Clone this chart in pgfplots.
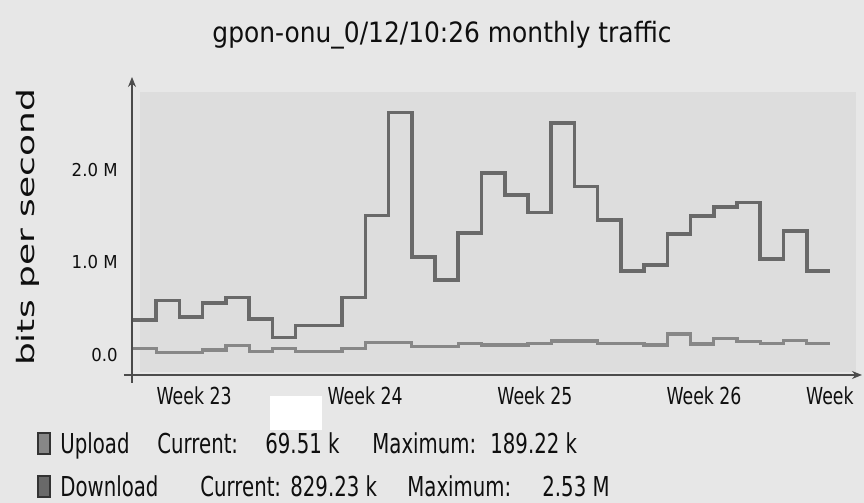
\documentclass[border=0pt]{standalone}
\usepackage{pgfplots}
\pgfplotsset{compat=1.18}
\usetikzlibrary{arrows.meta}
\usepackage{fontspec}
\setmainfont{DejaVu Sans}
\newfontfamily\titlefont[FakeStretch=0.89]{DejaVu Sans}
\newfontfamily\condfont[FakeStretch=0.72]{DejaVu Sans}
\newfontfamily\weekfont[FakeStretch=0.74]{DejaVu Sans}
\newfontfamily\ylabfont[FakeStretch=1.5]{DejaVu Sans}
\newfontfamily\ytickfont[FakeStretch=0.93]{DejaVu Sans}
\definecolor{bgc}{RGB}{231,231,231}
\definecolor{plotbg}{RGB}{221,221,221}
\definecolor{dlc}{RGB}{105,105,105}
\definecolor{ulc}{RGB}{135,135,135}
\definecolor{txt}{RGB}{15,15,15}
\begin{document}
\begin{tikzpicture}
% background (pixel coordinates of an 864x503 image)
\begin{scope}[x=0.5pt,y=-0.5pt,shift={(0pt,251.5pt)}]
  \fill[bgc] (0,0) rectangle (864,503);
  \fill[plotbg] (140,92) rectangle (856,372);
  \fill[white] (270,396) rectangle (322,430);
\end{scope}
\begin{axis}[
  at={(66pt,64pt)}, anchor=south west,
  scale only axis, width=365pt, height=149pt,
  xmin=-0.043, xmax=31.38, ymin=-0.216, ymax=3.005,
  axis lines=left,
  axis line style={draw=black!70, line width=0.7pt, shorten <=-4pt, -{Stealth[length=5pt,width=4pt]}},
  major tick length=0pt,
  xtick={2.63,9.99,17.3,24.58,30.0},
  xticklabels={Week 23,Week 24,Week 25,Week 26,Week},
  xticklabel style={font=\weekfont\fontsize{11.7}{12}\selectfont, text=txt, anchor=base, inner sep=0pt, yshift=-15pt},
  ytick={0,1,2},
  yticklabels={0.0,1.0 M,2.0 M},
  yticklabel style={font=\ytickfont\fontsize{8.9}{10}\selectfont, text=txt, anchor=east, inner sep=0pt, xshift=-7pt},
  clip=false,
]
\addplot[const plot, dlc, line width=1.8pt] coordinates {
 (0,0.38) (1,0.59) (2,0.41) (3,0.56) (4,0.62) (5,0.39) (6,0.19) (7,0.32) (8,0.32) (9,0.62)
 (10,1.51) (11,2.62) (12,1.06) (13,0.81) (14,1.32) (15,1.97) (16,1.73) (17,1.54) (18,2.51) (19,1.82)
 (20,1.46) (21,0.91) (22,0.97) (23,1.31) (24,1.50) (25,1.60) (26,1.65) (27,1.04) (28,1.34) (29,0.91)
 (30,0.91)
};
\addplot[const plot, ulc, line width=1.6pt] coordinates {
 (0,0.072) (1,0.025) (2,0.025) (3,0.054) (4,0.100) (5,0.036) (6,0.072) (7,0.036) (8,0.036) (9,0.072)
 (10,0.137) (11,0.137) (12,0.090) (13,0.090) (14,0.126) (15,0.108) (16,0.108) (17,0.126) (18,0.151) (19,0.151)
 (20,0.126) (21,0.126) (22,0.108) (23,0.227) (24,0.119) (25,0.180) (26,0.144) (27,0.126) (28,0.155) (29,0.126)
 (30,0.126)
};
\end{axis}
% texts
\begin{scope}[x=0.5pt,y=-0.5pt,shift={(0pt,251.5pt)}]
  \node[anchor=base, inner sep=0pt, text=txt, font=\titlefont\fontsize{14}{16}\selectfont] at (442,43) {gpon-onu\_0/12/10:26 monthly traffic};
  \node[anchor=base, rotate=90, inner sep=0pt, text=txt, font=\ylabfont\fontsize{12}{14}\selectfont] at (35,227.5) {bits per second};
  % legend
  \draw[draw=black!80, fill=ulc, line width=0.7pt] (38,433) rectangle (50,454);
  \draw[draw=black!80, fill=dlc, line width=0.7pt] (38,476) rectangle (50,497);
  \begin{scope}[every node/.style={anchor=base west, inner sep=0pt, text=txt, font=\condfont\fontsize{13.7}{15}\selectfont}]
    \node at (60,454) {Upload};
    \node at (157,454) {Current:};
    \node at (265,454) {69.51 k};
    \node at (372,454) {Maximum:};
    \node at (490,454) {189.22 k};
    \node at (60,497) {Download};
    \node at (200,497) {Current:};
    \node at (290,497) {829.23 k};
    \node at (407,497) {Maximum:};
    \node at (542,497) {2.53 M};
  \end{scope}
\end{scope}
\pgfresetboundingbox
\useasboundingbox (0,0) rectangle (432pt,251.5pt);
\end{tikzpicture}
\end{document}
